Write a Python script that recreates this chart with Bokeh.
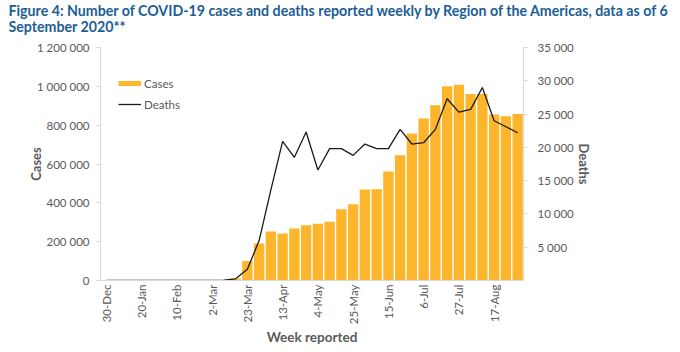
from bokeh.plotting import figure
from bokeh.layouts import column
from bokeh.models import (Range1d, LinearAxis, FixedTicker, CustomJSTickFormatter,
                          Legend, LegendItem, ColumnDataSource)
from bokeh.core.properties import value
from bokeh.embed import file_html
from bokeh.resources import INLINE
import math

weeks = ["30-Dec", "6-Jan", "13-Jan", "20-Jan", "27-Jan", "3-Feb", "10-Feb", "17-Feb", "24-Feb",
         "2-Mar", "9-Mar", "16-Mar", "23-Mar", "30-Mar", "6-Apr", "13-Apr", "20-Apr", "27-Apr",
         "4-May", "11-May", "18-May", "25-May", "1-Jun", "8-Jun", "15-Jun", "22-Jun", "29-Jun",
         "6-Jul", "13-Jul", "20-Jul", "27-Jul", "3-Aug", "10-Aug", "17-Aug", "24-Aug", "31-Aug"]
shown_labels = ["30-Dec", "20-Jan", "10-Feb", "2-Mar", "23-Mar", "13-Apr", "4-May", "25-May",
                "15-Jun", "6-Jul", "27-Jul", "17-Aug"]
cases = [0, 0, 0, 0, 0, 0, 0, 0, 0, 500, 2500, 10000, 100000, 190000, 252000, 242000, 268000,
         285000, 292000, 302000, 367000, 393000, 469000, 470000, 561000, 645000, 757000, 834000,
         903000, 1001000, 1008000, 961000, 961000, 855000, 846000, 857000]
deaths = [0, 0, 0, 0, 0, 0, 0, 0, 0, 20, 60, 250, 1700, 6000, 13600, 20900, 18500, 22300, 16600,
          19800, 19800, 18800, 20500, 19800, 19800, 22700, 20500, 20700, 22700, 27300, 25300,
          25700, 29000, 24000, 23100, 22200]
cases_ticks = [0, 200000, 400000, 600000, 800000, 1000000, 1200000]
deaths_ticks = [5000, 10000, 15000, 20000, 25000, 30000, 35000]
title_lines = ["Figure 4: Number of COVID-19 cases and deaths reported weekly by Region of the Americas, data as of 6",
               "September 2020**"]

BAR = "#FDB52B"
GREY = "#595959"
AXIS = "#D9D9D9"
TITLE_C = "#1D5E94"
FONT = "Lato"

# ---- title strip (its own small figure, pixel coordinates) ----
TH = 38
tf = figure(width=680, height=TH, x_range=Range1d(0, 680), y_range=Range1d(0, TH),
            output_backend="svg", toolbar_location=None, x_axis_type=None, y_axis_type=None,
            min_border=0, min_border_left=0, min_border_right=0, min_border_top=0,
            min_border_bottom=0)
tf.outline_line_color = None
tf.xgrid.visible = False
tf.ygrid.visible = False
tf.text(x=[8, 8], y=[TH - 10, TH - 26], text=title_lines, text_font=value(FONT),
        text_font_size="14.2px", text_font_style="bold", text_color=TITLE_C,
        text_baseline="middle", text_align="left")

# ---- main chart ----
# category slots: week i sits at the centre of slot i
pos = [i + 0.5 for i in range(len(weeks))]
src = ColumnDataSource(dict(pos=pos, week=weeks, cases=cases, deaths=deaths))

p = figure(width=680, height=352 - TH, x_range=Range1d(0, len(weeks)),
           y_range=Range1d(0, 1200000), output_backend="svg", toolbar_location=None,
           min_border_left=100, min_border_right=157, min_border_top=47 - TH, min_border_bottom=72)
p.outline_line_color = None
p.xgrid.visible = False
p.ygrid.visible = False
p.background_fill_color = "white"
p.border_fill_color = "white"

# keep the title strip independent of the chart frame
for fig in (tf, p):
    if "frame_align" in fig.properties():
        fig.frame_align = False

p.extra_y_ranges = {"deaths": Range1d(0, 35000)}

bars = p.vbar(x="pos", top="cases", width=0.88, source=src, fill_color=BAR, line_color=None)
line = p.line(x="pos", y="deaths", source=src, y_range_name="deaths", line_color="#1A1A1A",
              line_width=1.3)

fmt = CustomJSTickFormatter(code="return tick.toFixed(0).replace(/\\B(?=(\\d{3})+(?!\\d))/g, ' ');")

# left axis
ya = p.yaxis[0]
ya.ticker = FixedTicker(ticks=cases_ticks)
ya.formatter = fmt
ya.axis_label = "Cases"
ya.axis_label_text_font = FONT
ya.axis_label_text_font_style = "bold"
ya.axis_label_text_font_size = "13px"
ya.axis_label_text_color = GREY
ya.axis_label_standoff = -10
ya.major_label_text_font = FONT
ya.major_label_text_font_size = "11.5px"
ya.major_label_text_color = GREY
ya.major_label_standoff = 7
ya.axis_line_color = AXIS
ya.major_tick_line_color = AXIS
ya.major_tick_out = 4
ya.major_tick_in = 0
ya.minor_tick_line_color = None

# right axis
ra = LinearAxis(y_range_name="deaths", ticker=FixedTicker(ticks=deaths_ticks), formatter=fmt,
                axis_label="Deaths")
ra.axis_label_text_font = FONT
ra.axis_label_text_font_style = "bold"
ra.axis_label_text_font_size = "13px"
ra.axis_label_text_color = GREY
ra.axis_label_standoff = -1
ra.major_label_text_font = FONT
ra.major_label_text_font_size = "11.5px"
ra.major_label_text_color = GREY
ra.major_label_standoff = 10
ra.axis_line_color = AXIS
ra.major_tick_line_color = AXIS
ra.major_tick_out = 4
ra.major_tick_in = 0
ra.minor_tick_line_color = None
p.add_layout(ra, "right")

# x axis: label every third week
xa = p.xaxis[0]
label_pos = [pos[weeks.index(w)] for w in shown_labels]
xa.ticker = FixedTicker(ticks=label_pos)
xa.major_label_overrides = {pos[weeks.index(w)]: w for w in shown_labels}
xa.major_label_orientation = math.pi / 2
xa.major_label_text_font = FONT
xa.major_label_text_font_size = "11.5px"
xa.major_label_text_color = GREY
xa.major_label_standoff = 4
xa.major_tick_line_color = None
xa.major_tick_out = 0
xa.minor_tick_line_color = None
xa.axis_line_color = AXIS
xa.axis_label = "Week reported"
xa.axis_label_text_font = FONT
xa.axis_label_text_font_style = "bold"
xa.axis_label_text_font_size = "13.5px"
xa.axis_label_text_color = GREY
xa.axis_label_standoff = 2

# legend (cases swatch shown as a thick bar-coloured stroke like the original)
swatch = p.line(x=[0], y=[0], line_color=BAR, line_width=5)
legend = Legend(items=[LegendItem(label="Cases", renderers=[swatch]),
                       LegendItem(label="Deaths", renderers=[line])],
                location=(18, 167), orientation="vertical", padding=0, margin=0, spacing=3,
                glyph_width=23, glyph_height=18, label_height=18, label_standoff=3,
                label_text_font=FONT, label_text_font_size="11.5px", label_text_color=GREY,
                border_line_color=None, background_fill_alpha=0)
p.add_layout(legend, "center")

layout = column(tf, p, spacing=0)
open("out.html", "w").write(file_html(layout, INLINE))
